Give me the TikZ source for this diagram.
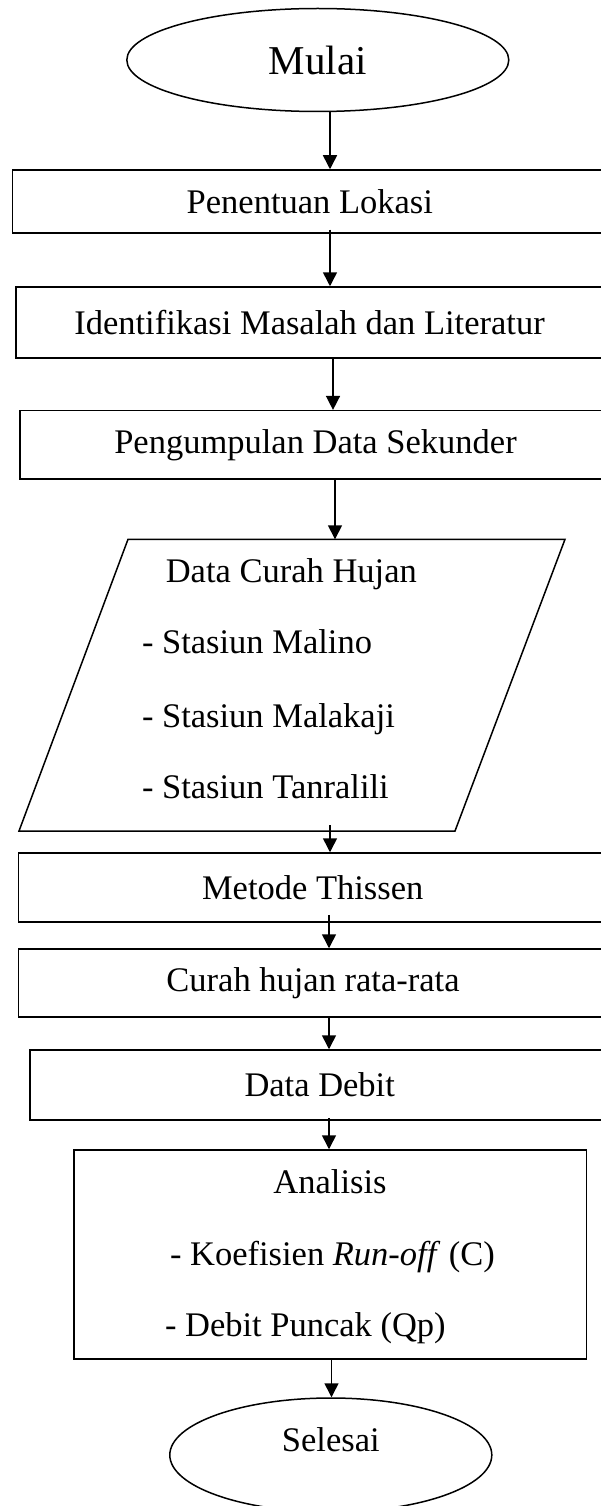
\documentclass[tikz,border=0pt]{standalone}
\usepackage{fontspec}
\setmainfont{Liberation Serif}
\usetikzlibrary{shapes.geometric,arrows.meta}
\newcommand{\bodyfnt}{\fontsize{34.5pt}{40pt}\selectfont}
\newcommand{\bigfnt}{\fontsize{41pt}{48pt}\selectfont}
\begin{document}
\begin{tikzpicture}[x=1pt,y=-1pt,
  box/.style={draw, line width=1.5pt, rectangle, inner sep=0pt, font=\bodyfnt},
  oval/.style={draw, line width=1.5pt, ellipse, inner sep=0pt},
  txt/.style={inner sep=0pt, font=\bodyfnt},
  arr/.style={line width=1.5pt, -{Triangle[length=14pt,width=14pt]}}]
\useasboundingbox (0,0) rectangle (601,1506);
% nodes
\node[oval, minimum width=382pt, minimum height=103pt, font=\bigfnt] (mulai) at (317.8,60) {Mulai};
\node[box, minimum width=594.4pt, minimum height=63pt] (lok) at (309.8,201.5) {Penentuan Lokasi};
\node[box, minimum width=587pt, minimum height=71pt] (idt) at (309.5,322.5) {Identifikasi Masalah dan Literatur};
\node[box, minimum width=591pt, minimum height=68.3pt] (kum) at (315.5,444.8) {Pengumpulan Data Sekunder};
% parallelogram
\coordinate (ptl) at (128,539.3);
\coordinate (ptr) at (565,539.3);
\coordinate (pbr) at (455,831);
\coordinate (pbl) at (19,831);
\draw[line width=1.5pt] (ptl) -- (ptr) -- (pbr) -- (pbl) -- cycle;
\node[txt, anchor=base west] (dch) at (165.6,582) {Data Curah Hujan};
\node[txt, anchor=base west] (st1) at (141.8,653) {- Stasiun Malino};
\node[txt, anchor=base west] (st2) at (141.8,727) {- Stasiun Malakaji};
\node[txt, anchor=base west] (st3) at (141.8,798) {- Stasiun Tanralili};
\node[box, minimum width=588.6pt, minimum height=69pt] (met) at (312.7,887.5) {Metode Thissen};
\node[box, minimum width=589.2pt, minimum height=68pt] (rat) at (313,983) {Curah hujan rata-rata};
\node[box, minimum width=579.4pt, minimum height=70pt] (deb) at (319.7,1085) {Data Debit};
\node[box, minimum width=512.5pt, minimum height=209pt] (ana) at (330.25,1254.5) {};
\node[txt, anchor=base] (an0) at (330,1193) {Analisis};
\node[txt, anchor=base west] (an1) at (169.8,1265) {- Koefisien \textit{Run-off} (C)};
\node[txt, anchor=base west] (an2) at (164.8,1336) {- Debit Puncak (Qp)};
\node[oval, minimum width=322pt, minimum height=114pt] (sel) at (330.8,1455) {};
\node[txt] (selT) at (330.8,1440) {Selesai};
% arrow x positions and start points
\coordinate (xa) at (330,0);
\coordinate (xb) at (333,0);
\coordinate (xc) at (335,0);
\coordinate (xd) at (329,0);
\coordinate (xe) at (331.5,0);
\coordinate (s2) at ([yshift=4pt]lok.south);
\coordinate (s5) at ([yshift=6pt]pbl);
\coordinate (s6) at ([yshift=8pt]met.south);
\coordinate (s8) at ([yshift=3pt]deb.south);
% connectors
\draw[arr] (mulai.south -| xa) -- (lok.north -| xa);
\draw[arr] (s2 -| xa) -- (idt.north -| xa);
\draw[arr] (idt.south -| xb) -- (kum.north -| xb);
\draw[arr] (kum.south -| xc) -- (ptl -| xc);
\draw[arr] (s5 -| xa) -- (met.north -| xa);
\draw[arr] (s6 -| xd) -- (rat.north -| xd);
\draw[arr] (rat.south -| xd) -- (deb.north -| xd);
\draw[arr] (s8 -| xd) -- (ana.north -| xd);
\draw[arr] (ana.south -| xe) -- (sel.north -| xe);
\end{tikzpicture}
\end{document}
